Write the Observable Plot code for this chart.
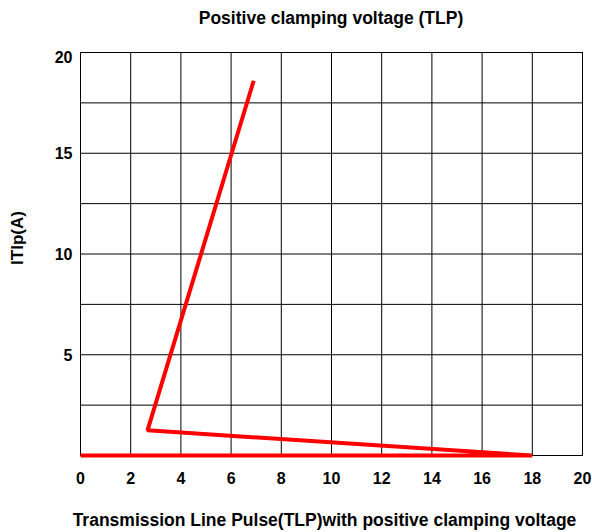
<!DOCTYPE html>
<html><head><meta charset="utf-8">
<script src="https://cdn.jsdelivr.net/npm/d3@7"></script>
<script src="https://cdn.jsdelivr.net/npm/@observablehq/plot@0.6"></script>
<style>
body{margin:0;background:#fff;font-family:"Liberation Sans",Arial,sans-serif;}
#title{width:592px;height:36px;line-height:36px;text-align:center;font-weight:bold;font-size:17.5px;padding-left:70px;box-sizing:border-box;color:#000;}
</style>
</head><body>
<div id="title">Positive clamping voltage (TLP)</div>
<div id="chart"></div>
<script>
const voltage = [0, 18, 2.67, 6.9];
const current = [0, 0, 1.25, 18.6];
const xTicks = [0, 2, 4, 6, 8, 10, 12, 14, 16, 18, 20];
const yTicks = [5, 10, 15];
const yTopTick = [20];
const yGrid = [0, 2.5, 5, 7.5, 10, 12.5, 15, 17.5, 20];
const xLabel = "Transmission Line Pulse(TLP)with positive clamping voltage";
const yLabel = "ITlp(A)";

const data = voltage.map((v, i) => ({v, c: current[i]}));

const plot = Plot.plot({
  width: 592,
  height: 496,
  marginTop: 16,
  marginLeft: 80,
  marginRight: 10,
  marginBottom: 77,
  style: {fontFamily: '"Liberation Sans", Arial, sans-serif', fontSize: "16px", fontWeight: "bold", color: "#000", background: "#fff"},
  x: {domain: [0, 20]},
  y: {domain: [0, 20]},
  marks: [
    Plot.gridX(xTicks, {stroke: "#000", strokeOpacity: 1, strokeWidth: 1}),
    Plot.gridY(yGrid, {stroke: "#000", strokeOpacity: 1, strokeWidth: 1}),
    Plot.frame({stroke: "#000", strokeWidth: 1}),
    Plot.axisX({ticks: xTicks, tickSize: 0, tickPadding: 17, label: null, fontWeight: "bold", fontSize: 16}),
    Plot.axisY({ticks: yTicks, tickSize: 0, tickPadding: 8, label: null, fontWeight: "bold", fontSize: 16, dy: 1}),
    Plot.axisY({ticks: yTopTick, tickSize: 0, tickPadding: 8, label: null, fontWeight: "bold", fontSize: 16, dy: 5}),
    Plot.text([xLabel], {frameAnchor: "bottom", lineAnchor: "middle", textAnchor: "middle", dy: 65, dx: -7, text: d => d, fontWeight: "bold", fontSize: 17.5}),
    Plot.text([yLabel], {frameAnchor: "left", textAnchor: "middle", lineAnchor: "middle", dx: -63, dy: -16, rotate: -90, text: d => d, fontWeight: "bold", fontSize: 17}),
    Plot.line(data, {x: "v", y: "c", stroke: "#ff0000", strokeWidth: 4, strokeLinejoin: "miter", strokeLinecap: "butt"})
  ]
});
document.getElementById("chart").appendChild(plot);
</script>
</body></html>
